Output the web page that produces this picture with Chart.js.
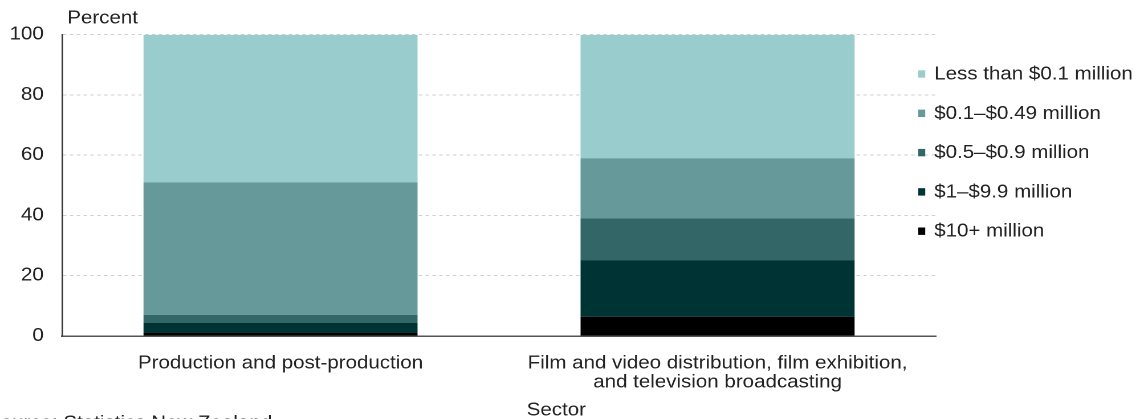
<!DOCTYPE html>
<html>
<head>
<meta charset="utf-8">
<title>Business size by sector</title>
<script src="https://cdn.jsdelivr.net/npm/chart.js@4.4.1/dist/chart.umd.min.js"></script>
<style>
  html, body { margin: 0; padding: 0; background: #ffffff; overflow: hidden; }
  /* The chart is laid out narrower and widened horizontally, giving the broad lettering */
  #wrap {
    position: absolute; left: 0; top: 0;
    width: 1007px; height: 419px;
    transform: scaleX(1.14); transform-origin: 0 0;
  }
</style>
</head>
<body>
<div id="wrap"><canvas id="chart"></canvas></div>
<script>
// Sectors (x-axis categories)
const categories = [
  'Production and post-production',
  ['Film and video distribution, film exhibition,', 'and television broadcasting']
];

// Turnover bands, as listed in the key (top of stack first)
const bandLabels = [
  'Less than $0.1 million',
  '$0.1–$0.49 million',
  '$0.5–$0.9 million',
  '$1–$9.9 million',
  '$10+ million'
];

// Share of businesses in each band, percent, one value per sector
const lessThan01 = [49.0, 41.0];
const from01to049 = [44.0, 19.9];
const from05to09 = [2.7, 13.9];
const from1to99 = [3.3, 18.8];
const tenPlus = [1.0, 6.4];

const yTicks = [0, 20, 40, 60, 80, 100];
const yTitle = 'Percent';
const xTitle = 'Sector';
const sourceNote = 'Source: Statistics New Zealand';

const bandColors = ['#99cccc', '#669999', '#336666', '#003333', '#000000'];
const bandValues = [lessThan01, from01to049, from05to09, from1to99, tenPlus];

const FONT = '"Liberation Sans", Arial, Helvetica, sans-serif';
const TEXT = '#222222';

// Stack from the largest band at the bottom up to the smallest at the top
const datasets = bandLabels.map((label, i) => ({
  label: label,
  data: bandValues[i],
  backgroundColor: bandColors[i],
  borderWidth: 0,
  barPercentage: 0.627,
  categoryPercentage: 1.0
})).reverse();

// Axis titles, source line and key
const annotations = {
  id: 'annotations',
  afterDraw(chart) {
    const ctx = chart.ctx;
    ctx.save();
    ctx.fillStyle = TEXT;
    ctx.font = '18px ' + FONT;
    ctx.textBaseline = 'alphabetic';

    ctx.textAlign = 'left';
    ctx.fillText(yTitle, 59, 23.5);

    ctx.textAlign = 'center';
    ctx.fillText(xTitle, 488, 415.5);

    ctx.textAlign = 'left';
    ctx.fillText(sourceNote, -11.4, 428.5);

    // Key
    ctx.textBaseline = 'middle';
    bandLabels.forEach((label, i) => {
      const y = 74.5 + i * 39.3;
      ctx.fillStyle = bandColors[i];
      ctx.fillRect(805.5, y - 4.2, 6.1, 7.4);
      ctx.fillStyle = TEXT;
      ctx.fillText(label, 819.5, y);
    });
    ctx.restore();
  }
};

new Chart(document.getElementById('chart'), {
  type: 'bar',
  data: { labels: categories, datasets: datasets },
  plugins: [annotations],
  options: {
    responsive: true,
    maintainAspectRatio: false,
    animation: false,
    devicePixelRatio: 2,
    layout: { padding: { left: 0, top: 34.7, right: 185.9, bottom: 0 } },
    plugins: {
      legend: { display: false },
      tooltip: { enabled: false }
    },
    scales: {
      x: {
        stacked: true,
        grid: { display: false },
        border: { display: true, color: '#555555', width: 1.5 },
        ticks: {
          color: TEXT,
          font: { family: FONT, size: 18, lineHeight: 1.05 },
          padding: 10,
          maxRotation: 0,
          autoSkip: false
        },
        afterFit(scale) { scale.height = 419 - 336; }
      },
      y: {
        stacked: true,
        min: 0,
        max: 100,
        afterBuildTicks(scale) { scale.ticks = yTicks.map(v => ({ value: v })); },
        grid: { color: '#cfcfcf', lineWidth: 1, drawTicks: false },
        border: { display: true, color: '#333333', width: 1.3, dash: [3, 3] },
        ticks: {
          color: TEXT,
          font: { family: FONT, size: 18 },
          padding: 16
        },
        afterFit(scale) { scale.width = 54.4; }
      }
    }
  }
});
</script>
</body>
</html>
